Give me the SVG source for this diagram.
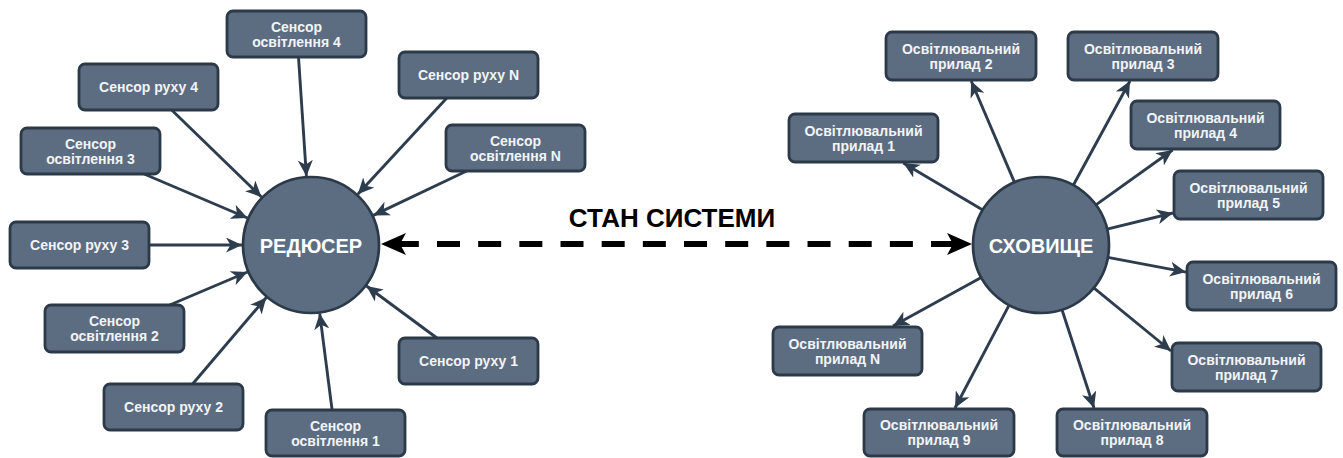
<svg xmlns="http://www.w3.org/2000/svg" width="1343" height="458" viewBox="0 0 1343 458">
  <style>
    .box { fill: #5c6d82; stroke: #2b3948; stroke-width: 2.8; }
    .hub { fill: #5c6d82; stroke: #2b3948; stroke-width: 2.7; }
    .lbl { font-family: "Liberation Sans", Arial, sans-serif; font-weight: bold; font-size: 14px; fill: #f2f4f6; text-anchor: middle; }
    .hubl { font-family: "Liberation Sans", Arial, sans-serif; font-weight: bold; font-size: 20px; fill: #ffffff; text-anchor: middle; }
    .title { font-family: "Liberation Sans", Arial, sans-serif; font-weight: bold; font-size: 26px; fill: #000000; text-anchor: middle; }
    .edge { fill: none; stroke: #2e3d4d; stroke-width: 2.9; marker-end: url(#arr); }
    .state { fill: none; stroke: #000000; stroke-width: 6; stroke-dasharray: 23 18.17; stroke-dashoffset: 26.34; marker-start: url(#bigL); marker-end: url(#bigR); }
  </style>
  <defs>
    <marker id="arr" markerUnits="userSpaceOnUse" markerWidth="17" markerHeight="15" refX="16" refY="7.5" orient="auto">
      <path d="M0,0 L16,7.5 L0,15 L4.5,7.5 Z" fill="#2e3d4d"/>
    </marker>
    <marker id="bigR" markerUnits="userSpaceOnUse" markerWidth="26" markerHeight="22" refX="25" refY="11" orient="auto">
      <path d="M0,0 L25,11 L0,22 L6,11 Z" fill="#000000"/>
    </marker>
    <marker id="bigL" markerUnits="userSpaceOnUse" markerWidth="26" markerHeight="22" refX="1" refY="11" orient="auto">
      <path d="M26,0 L1,11 L26,22 L20,11 Z" fill="#000000"/>
    </marker>
  </defs>

  <rect width="1343" height="458" fill="#ffffff"/>

  <g id="connectors">
    <!-- sensors into the reducer -->
    <path class="edge" d="M298.5,57 L306.4,176.2"/>
    <path class="edge" d="M171.7,110 L261.5,197"/>
    <path class="edge" d="M446.8,98 L357.8,194.3"/>
    <path class="edge" d="M144.1,174 L247.5,218"/>
    <path class="edge" d="M466.6,171 L373.3,215.4"/>
    <path class="edge" d="M149,245 L242,245"/>
    <path class="edge" d="M169.7,305 L247.5,272"/>
    <path class="edge" d="M192.6,384 L266.3,297.5"/>
    <path class="edge" d="M332.1,410 L319.7,313.4"/>
    <path class="edge" d="M436.9,338 L366.5,286"/>
    <!-- store out to the lighting devices -->
    <path class="edge" d="M982.8,209.9 L903.3,163"/>
    <path class="edge" d="M1014.5,182.4 L971.2,81"/>
    <path class="edge" d="M1073.3,185.2 L1130,81"/>
    <path class="edge" d="M1095.9,204.9 L1172.6,150"/>
    <path class="edge" d="M1107.1,229.1 L1173,213"/>
    <path class="edge" d="M1107.8,257.4 L1186,272.1"/>
    <path class="edge" d="M1093.8,287.9 L1171,351"/>
    <path class="edge" d="M1062,309.7 L1094,408"/>
    <path class="edge" d="M1009.1,305.1 L955,408"/>
    <path class="edge" d="M981.2,277.4 L893,326"/>
    <!-- shared system state -->
    <path id="state-link" class="state" d="M381,244 L972,244"/>
    <text class="title" x="672" y="227">СТАН СИСТЕМИ</text>
  </g>

  <g id="reducer">
    <circle class="hub" cx="311" cy="245" r="68"/>
    <text class="hubl" x="311" y="253">РЕДЮСЕР</text>
  </g>
  <g id="store">
    <circle class="hub" cx="1041" cy="245" r="68"/>
    <text class="hubl" x="1041" y="253">СХОВИЩЕ</text>
  </g>

  <g id="sensor-light-4">
    <rect class="box" x="227" y="11" width="139" height="46" rx="6"/>
    <text class="lbl" x="296.5" y="31.5">Сенсор</text>
    <text class="lbl" x="296.5" y="46.5">освітлення 4</text>
  </g>
  <g id="sensor-motion-4">
    <rect class="box" x="79" y="64" width="139" height="46" rx="6"/>
    <text class="lbl" x="148.5" y="92">Сенсор руху 4</text>
  </g>
  <g id="sensor-motion-n">
    <rect class="box" x="399" y="52" width="139" height="46" rx="6"/>
    <text class="lbl" x="468.5" y="80">Сенсор руху N</text>
  </g>
  <g id="sensor-light-3">
    <rect class="box" x="21" y="128" width="139" height="46" rx="6"/>
    <text class="lbl" x="90.5" y="148.5">Сенсор</text>
    <text class="lbl" x="90.5" y="163.5">освітлення 3</text>
  </g>
  <g id="sensor-light-n">
    <rect class="box" x="446" y="125" width="139" height="46" rx="6"/>
    <text class="lbl" x="515.5" y="145.5">Сенсор</text>
    <text class="lbl" x="515.5" y="160.5">освітлення N</text>
  </g>
  <g id="sensor-motion-3">
    <rect class="box" x="10" y="222" width="139" height="46" rx="6"/>
    <text class="lbl" x="79.5" y="250">Сенсор руху 3</text>
  </g>
  <g id="sensor-light-2">
    <rect class="box" x="45" y="305" width="139" height="47" rx="6"/>
    <text class="lbl" x="114.5" y="326">Сенсор</text>
    <text class="lbl" x="114.5" y="341">освітлення 2</text>
  </g>
  <g id="sensor-motion-2">
    <rect class="box" x="104" y="384" width="139" height="46" rx="6"/>
    <text class="lbl" x="173.5" y="412">Сенсор руху 2</text>
  </g>
  <g id="sensor-light-1">
    <rect class="box" x="266" y="410" width="139" height="46" rx="6"/>
    <text class="lbl" x="335.5" y="430.5">Сенсор</text>
    <text class="lbl" x="335.5" y="445.5">освітлення 1</text>
  </g>
  <g id="sensor-motion-1">
    <rect class="box" x="399" y="338" width="139" height="46" rx="6"/>
    <text class="lbl" x="468.5" y="366">Сенсор руху 1</text>
  </g>

  <g id="device-1">
    <rect class="box" x="789" y="114" width="149" height="48" rx="6"/>
    <text class="lbl" x="863.5" y="135.5">Освітлювальний</text>
    <text class="lbl" x="863.5" y="150.5">прилад 1</text>
  </g>
  <g id="device-2">
    <rect class="box" x="886" y="32" width="150" height="48" rx="6"/>
    <text class="lbl" x="961" y="53.5">Освітлювальний</text>
    <text class="lbl" x="961" y="68.5">прилад 2</text>
  </g>
  <g id="device-3">
    <rect class="box" x="1068" y="32" width="150" height="48" rx="6"/>
    <text class="lbl" x="1143" y="53.5">Освітлювальний</text>
    <text class="lbl" x="1143" y="68.5">прилад 3</text>
  </g>
  <g id="device-4">
    <rect class="box" x="1131" y="101" width="149" height="48" rx="6"/>
    <text class="lbl" x="1205.5" y="122.5">Освітлювальний</text>
    <text class="lbl" x="1205.5" y="137.5">прилад 4</text>
  </g>
  <g id="device-5">
    <rect class="box" x="1174" y="171" width="149" height="48" rx="6"/>
    <text class="lbl" x="1248.5" y="192.5">Освітлювальний</text>
    <text class="lbl" x="1248.5" y="207.5">прилад 5</text>
  </g>
  <g id="device-6">
    <rect class="box" x="1187" y="262" width="149" height="48" rx="6"/>
    <text class="lbl" x="1261.5" y="283.5">Освітлювальний</text>
    <text class="lbl" x="1261.5" y="298.5">прилад 6</text>
  </g>
  <g id="device-7">
    <rect class="box" x="1172" y="343" width="149" height="48" rx="6"/>
    <text class="lbl" x="1246.5" y="364.5">Освітлювальний</text>
    <text class="lbl" x="1246.5" y="379.5">прилад 7</text>
  </g>
  <g id="device-8">
    <rect class="box" x="1057" y="409" width="150" height="47" rx="6"/>
    <text class="lbl" x="1132" y="430">Освітлювальний</text>
    <text class="lbl" x="1132" y="445">прилад 8</text>
  </g>
  <g id="device-9">
    <rect class="box" x="864" y="409" width="150" height="47" rx="6"/>
    <text class="lbl" x="939" y="430">Освітлювальний</text>
    <text class="lbl" x="939" y="445">прилад 9</text>
  </g>
  <g id="device-n">
    <rect class="box" x="773" y="327" width="149" height="48" rx="6"/>
    <text class="lbl" x="847.5" y="348.5">Освітлювальний</text>
    <text class="lbl" x="847.5" y="363.5">прилад N</text>
  </g>
</svg>
